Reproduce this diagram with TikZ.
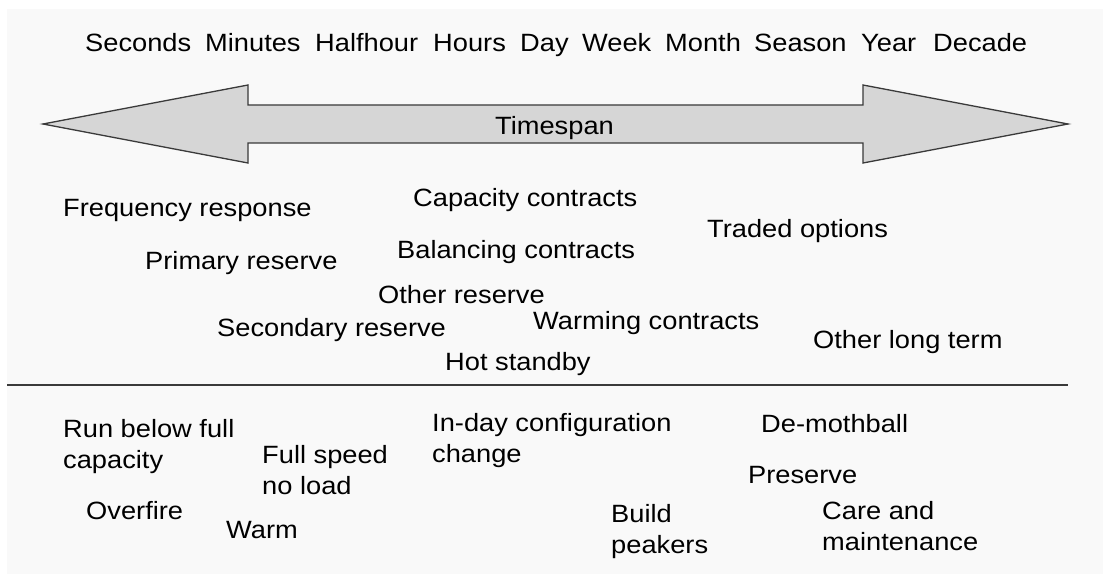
\documentclass[tikz,border=0pt]{standalone}
\usepackage{fontspec}
\setmainfont{Liberation Sans}[FakeStretch=1.09]
\definecolor{panel}{HTML}{F9F9F9}
\definecolor{arrowfill}{HTML}{D6D6D6}
\definecolor{edge}{HTML}{3A3A3A}
\begin{document}
\begin{tikzpicture}[x=1pt,y=-1pt,
  lbl/.style={anchor=base west, inner sep=0pt, font=\fontsize{25}{30.5}\selectfont, align=left},
  bigarrow/.style={fill=arrowfill, draw=edge, line width=1.3pt, line join=miter},
  divider/.style={draw=edge, line width=1.3pt}]
\useasboundingbox (0,0) rectangle (1103,575);
\fill[white] (0,0) rectangle (1103,575);
\fill[panel] (7,9) rectangle (1103,574);
% time scale
\node[lbl] (sec) at (85,52) {Seconds};
\node[lbl] (min) at (205,52) {Minutes};
\node[lbl] (hh) at (315,52) {Halfhour};
\node[lbl] (hrs) at (433,52) {Hours};
\node[lbl] (day) at (520,52) {Day};
\node[lbl] (wk) at (582,52) {Week};
\node[lbl] (mon) at (665,52) {Month};
\node[lbl] (sea) at (754,52) {Season};
\node[lbl] (yr) at (861,52) {Year};
\node[lbl] (dec) at (933,52) {Decade};
% arrow
\draw[bigarrow] (43,124) -- (248,85) -- (248,105) -- (863,105) -- (863,85) -- (1068,124)
  -- (863,163) -- (863,143) -- (248,143) -- (248,163) -- cycle;
\node[lbl] (ts) at (495,135) {Timespan};
% contracts
\node[lbl] (fr) at (63,216) {Frequency response};
\node[lbl] (cc) at (413,206) {Capacity contracts};
\node[lbl] (to) at (707,237) {Traded options};
\node[lbl] (bc) at (397,258) {Balancing contracts};
\node[lbl] (pr) at (145,269) {Primary reserve};
\node[lbl] (or) at (378,303) {Other reserve};
\node[lbl] (wc) at (533,329) {Warming contracts};
\node[lbl] (sr) at (217,336) {Secondary reserve};
\node[lbl] (olt) at (813,348) {Other long term};
\node[lbl] (hs) at (445,370) {Hot standby};
% divider
\coordinate (dl) at (7,385);
\coordinate (dr) at (1068,385);
\draw[divider] (dl) -- (dr);
% actions (multi-line nodes: base = last line's baseline)
\node[lbl] (rb) at (63,468) {Run below full\\capacity};
\node[lbl] (fs) at (262,494) {Full speed\\no load};
\node[lbl] (of) at (86,519) {Overfire};
\node[lbl] (wa) at (226,538) {Warm};
\node[lbl] (id) at (432,462) {In-day configuration\\change};
\node[lbl] (bp) at (611,553) {Build\\peakers};
\node[lbl] (dm) at (761,432) {De-mothball};
\node[lbl] (ps) at (748,483) {Preserve};
\node[lbl] (cm) at (822,550) {Care and\\maintenance};
\end{tikzpicture}
\end{document}
